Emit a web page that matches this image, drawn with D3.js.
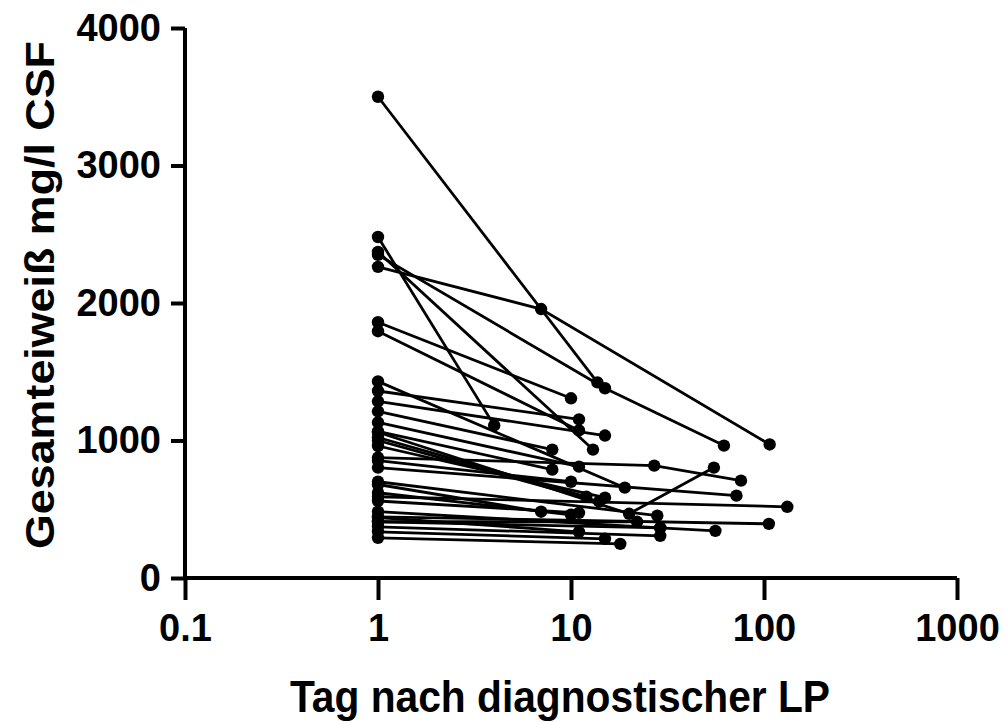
<!DOCTYPE html>
<html><head><meta charset="utf-8">
<script src="https://cdn.jsdelivr.net/npm/d3@7"></script>
<style>body{margin:0;background:#fff}svg{display:block}text{font-family:"Liberation Sans",Arial,sans-serif;font-weight:bold}</style>
</head><body>
<svg id="c" width="1005" height="722"></svg>
<script>
// Each patient: days of lumbar puncture and total protein (mg/l)
const patientDays = [
  [1,13.7],[1,4],[1,13],[1,15,62],[1,7,107],
  [1,10],[1,11],[1,11],[1,19],[1,15],[1,8],[1,11],[1,8],
  [1,12],[1,27,76],[1,10],[1,14],[1,15],[1,72],[1,28],[1,7],[1,10],[1,11],
  [1,20,55],[1,132],[1,106],[1,29,56],[1,22],[1,29],[1,11],[1,15],[1,18],[1,29]
];
const patientValues = [
  [3500,1423],[2480,1110],[2372,934],[2350,1380,963],[2263,1956,971],
  [1860,1307],[1795,1073],[1360,1153],[1430,657],[1285,1036],[1212,934],[1131,810],[1066,788],
  [1022,591],[876,817,708],[854,700],[1000,555],[960,584],[803,599],[700,453],[680,482],[620,460],[560,474],
  [1060,467,803],[591,518],[445,394],[482,365,343],[409,409],[372,307],[440,336],[336,285],[292,248],[409,365]
];
const xTicks = [0.1,1,10,100,1000];
const xTickLabels = ["0.1","1","10","100","1000"];
const yTicks = [0,1000,2000,3000,4000];
const xTitle = "Tag nach diagnostischer LP";
const yTitle = "Gesamteiweiß mg/l CSF";

const svg = d3.select("#c");
const x = d3.scaleLog().domain([0.1,1000]).range([185,957]);
const y = d3.scaleLinear().domain([0,4000]).range([578,28]);

const series = patientDays.map((d,i)=>d.map((dd,j)=>({day:dd,val:patientValues[i][j]})));
const line = d3.line().x(d=>x(d.day)).y(d=>y(d.val));
const g = svg.append("g");
g.selectAll("path.s").data(series).join("path").attr("class","s")
  .attr("d",line).attr("fill","none").attr("stroke","#000").attr("stroke-width",2.8);
g.selectAll("g.pts").data(series).join("g").attr("class","pts")
  .selectAll("circle").data(d=>d).join("circle")
  .attr("cx",d=>x(d.day)).attr("cy",d=>y(d.val)).attr("r",6.2).attr("fill","#000");

// axes
const xAxis = d3.axisBottom(x).tickValues(xTicks).tickFormat((d,i)=>xTickLabels[i]).tickSize(22).tickPadding(14);
const yAxis = d3.axisLeft(y).tickValues(yTicks).tickFormat(d3.format("d")).tickSize(14).tickPadding(10);
const gx = svg.append("g").attr("transform","translate(0,578)").call(xAxis);
const gy = svg.append("g").attr("transform","translate(185,0)").call(yAxis);
[gx,gy].forEach(a=>{
  a.select(".domain").attr("stroke","#000").attr("stroke-width",4);
  a.selectAll(".tick line").attr("stroke","#000").attr("stroke-width",4);
  a.selectAll(".tick text").attr("fill","#000").style("font-family","'Liberation Sans',Arial,sans-serif").style("font-weight","bold");
});
gy.selectAll(".tick text").style("font-size","38px");
gx.selectAll(".tick text").style("font-size","38px");
gx.select(".domain").attr("d","M185,0H957");
gy.select(".domain").attr("d","M0,28V580");

svg.append("text").attr("x",560).attr("y",712).attr("text-anchor","middle")
  .style("font-size","44px").attr("textLength",540).attr("lengthAdjust","spacingAndGlyphs").text(xTitle);
svg.append("text").attr("transform","translate(54,295) rotate(-90)").attr("text-anchor","middle")
  .style("font-size","41px").attr("textLength",508).attr("lengthAdjust","spacingAndGlyphs").text(yTitle);
</script>
</body></html>
